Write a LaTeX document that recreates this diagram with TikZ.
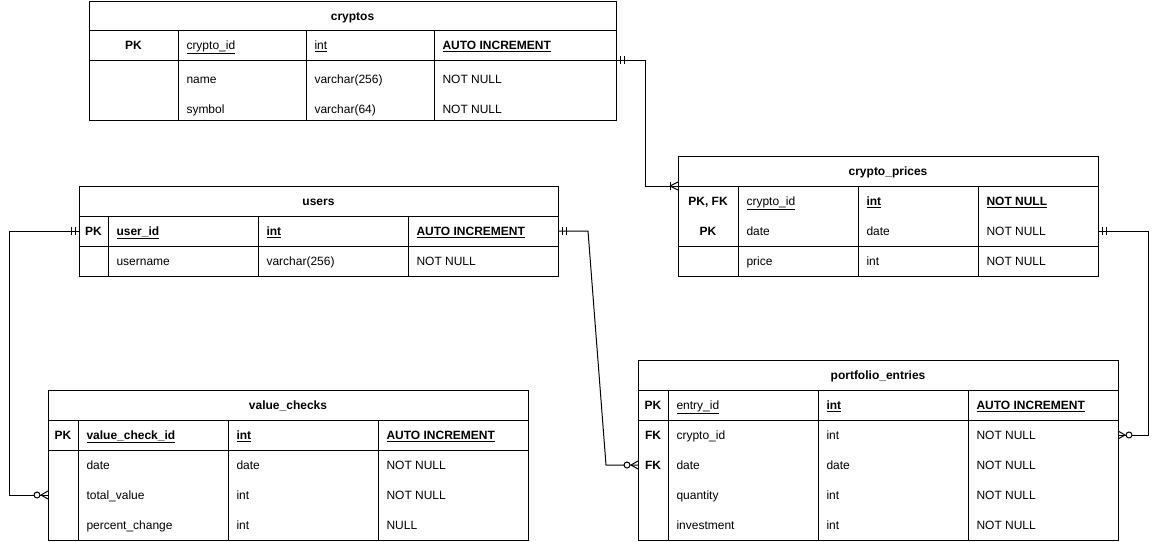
\documentclass[tikz,border=0pt]{standalone}
\usepackage{fontspec}
\setmainfont{Liberation Sans}
\usetikzlibrary{positioning, decorations.markings}

\begin{document}
\fontsize{12}{14}\selectfont
\begin{tikzpicture}[
    x=1pt, y=-1pt, % 1pt = 1px, y grows downwards
    line width=1pt,
    % --- TABLE STYLES ---
    tbl/.style={draw, anchor=north west, inner sep=0pt, outer sep=0pt},
    rowbox/.style={anchor=north west, inner sep=0pt, outer sep=0pt, minimum height=30pt},
    ttl/.style={font=\bfseries, inner sep=0pt, text height=10pt, text depth=1pt},
    keycell/.style={font=\bfseries, inner sep=0pt, text height=10pt, text depth=1pt},
    fieldcell/.style={anchor=west, inner sep=0pt, text height=10pt, text depth=1pt},
    % --- ER LINE ENDS ---
    one start/.style={postaction={decorate, decoration={markings,
        mark=at position 4pt with {\draw (0,-4pt) -- (0,4pt);},
        mark=at position 8pt with {\draw (0,-4pt) -- (0,4pt);}}}},
    one many end/.style={postaction={decorate, decoration={markings,
        mark=at position -8pt with {\draw (0,-4pt) -- (0,4pt);
            \draw (0,0) -- (8pt,-4pt) (0,0) -- (8pt,4pt);}}}},
    zero many end/.style={postaction={decorate, decoration={markings,
        mark=at position -11pt with {\draw[fill=white] (0,0) circle (3pt);
            \draw (4pt,0) -- (11pt,-4pt) (4pt,0) -- (11pt,4pt);}}}}
]
\useasboundingbox (0,0) rectangle (1159,541);

% --- cryptos ---
\node[tbl, minimum width=527pt, minimum height=119pt] (cryptos) at (89,1) {};
\node[tbl, rowbox, minimum width=527pt, minimum height=29pt] (c-title) at (89,1) {};
\node[tbl, rowbox, minimum width=527pt] (c-pk) at (c-title.south west) {};
\draw (178,30) -- (178,120) (306,30) -- (306,120) (434,30) -- (434,120);
\node[ttl] at (c-title) {cryptos};
\node[keycell] at (133.5,45) {PK};
\node[fieldcell] at (186,45) {\underline{crypto\_id}};
\node[fieldcell] at (314,45) {\underline{int}};
\node[fieldcell, font=\bfseries] at (442,45) {\underline{AUTO INCREMENT}};
\foreach \ry/\rf/\rt/\rc in {79/name/varchar(256)/NOT NULL, 109/symbol/varchar(64)/NOT NULL}{
    \node[fieldcell] at (186,\ry) {\rf};
    \node[fieldcell] at (314,\ry) {\rt};
    \node[fieldcell] at (442,\ry) {\rc};
}

% --- crypto_prices ---
\node[tbl, minimum width=420pt, minimum height=120pt] (cprices) at (678,156) {};
\node[tbl, rowbox, minimum width=420pt] (cp-title) at (678,156) {};
\node[rowbox, minimum width=420pt] (cp-pkfk) at (cp-title.south west) {};
\node[rowbox, minimum width=420pt] (cp-date) at (cp-pkfk.south west) {};
\draw (cp-date.south west) -- (cp-date.south east);
\draw (738,186) -- (738,276) (858,186) -- (858,276) (978,186) -- (978,276);
\node[ttl] at (cp-title) {crypto\_prices};
\node[keycell] at (708,201) {PK, FK};
\node[keycell] at (708,231) {PK};
\node[fieldcell] at (746,201) {\underline{crypto\_id}};
\node[fieldcell, font=\bfseries] at (866,201) {\underline{int}};
\node[fieldcell, font=\bfseries] at (986,201) {\underline{NOT NULL}};
\foreach \ry/\rf/\rt/\rc in {231/date/date/NOT NULL, 261/price/int/NOT NULL}{
    \node[fieldcell] at (746,\ry) {\rf};
    \node[fieldcell] at (866,\ry) {\rt};
    \node[fieldcell] at (986,\ry) {\rc};
}

% --- users ---
\node[tbl, minimum width=479pt, minimum height=90pt] (users) at (79,186) {};
\node[tbl, rowbox, minimum width=479pt] (u-title) at (79,186) {};
\node[tbl, rowbox, minimum width=479pt] (u-pk) at (u-title.south west) {};
\draw (108,216) -- (108,276) (258,216) -- (258,276) (408,216) -- (408,276);
\node[ttl] at (u-title) {users};
\node[keycell] at (93.5,231) {PK};
\node[fieldcell, font=\bfseries] at (116,231) {\underline{user\_id}};
\node[fieldcell, font=\bfseries] at (266,231) {\underline{int}};
\node[fieldcell, font=\bfseries] at (416,231) {\underline{AUTO INCREMENT}};
\node[fieldcell] at (116,261) {username};
\node[fieldcell] at (266,261) {varchar(256)};
\node[fieldcell] at (416,261) {NOT NULL};

% --- value_checks ---
\node[tbl, minimum width=480pt, minimum height=150pt] (vchecks) at (48,390) {};
\node[tbl, rowbox, minimum width=480pt] (vc-title) at (48,390) {};
\node[tbl, rowbox, minimum width=480pt] (vc-pk) at (vc-title.south west) {};
\node[rowbox, minimum width=480pt] (vc-date) at (vc-pk.south west) {};
\node[rowbox, minimum width=480pt] (vc-total) at (vc-date.south west) {};
\draw (78,420) -- (78,540) (228,420) -- (228,540) (378,420) -- (378,540);
\node[ttl] at (vc-title) {value\_checks};
\node[keycell] at (63,435) {PK};
\node[fieldcell, font=\bfseries] at (86,435) {\underline{value\_check\_id}};
\node[fieldcell, font=\bfseries] at (236,435) {\underline{int}};
\node[fieldcell, font=\bfseries] at (386,435) {\underline{AUTO INCREMENT}};
\foreach \ry/\rf/\rt/\rc in {465/date/date/NOT NULL, 495/total\_value/int/NOT NULL,
        525/percent\_change/int/NULL}{
    \node[fieldcell] at (86,\ry) {\rf};
    \node[fieldcell] at (236,\ry) {\rt};
    \node[fieldcell] at (386,\ry) {\rc};
}

% --- portfolio_entries ---
\node[tbl, minimum width=480pt, minimum height=180pt] (pentries) at (638,360) {};
\node[tbl, rowbox, minimum width=480pt] (pe-title) at (638,360) {};
\node[tbl, rowbox, minimum width=480pt] (pe-pk) at (pe-title.south west) {};
\node[rowbox, minimum width=480pt] (pe-crypto) at (pe-pk.south west) {};
\node[rowbox, minimum width=480pt] (pe-date) at (pe-crypto.south west) {};
\draw (668,390) -- (668,540) (818,390) -- (818,540) (968,390) -- (968,540);
\node[ttl] at (pe-title) {portfolio\_entries};
\node[keycell] at (653,405) {PK};
\node[keycell] at (653,435) {FK};
\node[keycell] at (653,465) {FK};
\node[fieldcell] at (676,405) {\underline{entry\_id}};
\node[fieldcell, font=\bfseries] at (826,405) {\underline{int}};
\node[fieldcell, font=\bfseries] at (976,405) {\underline{AUTO INCREMENT}};
\foreach \ry/\rf/\rt/\rc in {435/crypto\_id/int/NOT NULL, 465/date/date/NOT NULL,
        495/quantity/int/NOT NULL, 525/investment/int/NOT NULL}{
    \node[fieldcell] at (676,\ry) {\rf};
    \node[fieldcell] at (826,\ry) {\rt};
    \node[fieldcell] at (976,\ry) {\rc};
}

% Relations
\draw[one start, one many end] (c-pk.south east) -- ++(29,0) |- (cp-title.south west);
\draw[one start, zero many end] (u-pk.east) -- ++(30,0) -- ++(18,234) -- (pe-date.west);
\draw[one start, zero many end] (u-pk.west) -- ++(-70,0) |- (vc-total.west);
\draw[one start, zero many end] (cp-date.east) -- ++(50,0) |- (pe-crypto.east);

\end{tikzpicture}
\end{document}
